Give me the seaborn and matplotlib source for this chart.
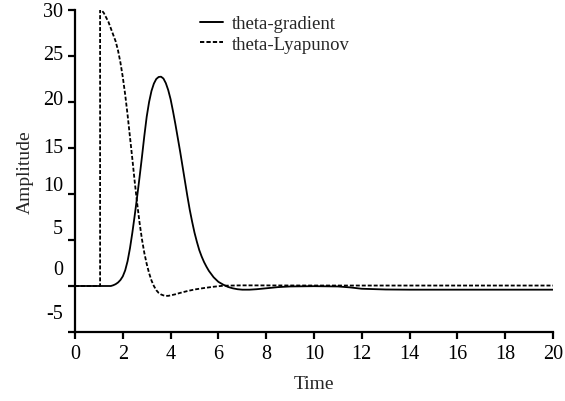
import matplotlib
matplotlib.use("Agg")
import matplotlib.pyplot as plt
import matplotlib.transforms as mtransforms
import pandas as pd
import seaborn as sns

# ---- data ----
grad_t = [0, 1.5, 1.6, 1.7, 1.8, 1.9, 2.0, 2.1, 2.2, 2.3, 2.4, 2.5, 2.6, 2.7, 2.8,
          2.9, 3.0, 3.1, 3.2, 3.3, 3.4, 3.5, 3.6, 3.7, 3.8, 3.9, 4.0, 4.1, 4.2,
          4.3, 4.4, 4.5, 4.6, 4.7, 4.8, 4.9, 5.0, 5.1, 5.2, 5.3, 5.4, 5.5, 5.6,
          5.7, 5.8, 5.9, 6.0, 6.2, 6.4, 6.6, 6.8, 7.0, 7.3, 7.6, 8.0, 8.5, 9.0,
          10.0, 11.0, 11.5, 12.0, 13.0, 14.0, 20.0]
grad_v = [0, 0, 0.08, 0.2, 0.38, 0.65, 1.05, 1.7, 2.7, 4.1, 5.8, 7.7, 9.7, 11.8, 14.0,
          16.3, 18.4, 20.0, 21.2, 22.0, 22.5, 22.72, 22.75, 22.55, 22.05, 21.3, 20.3, 19.0, 17.6,
          16.1, 14.6, 13.0, 11.4, 9.8, 8.3, 7.0, 5.8, 4.8, 3.9, 3.2, 2.6, 2.1, 1.65,
          1.3, 0.95, 0.7, 0.45, 0.15, -0.1, -0.25, -0.35, -0.4, -0.4, -0.35, -0.25, -0.12, -0.05,
          -0.02, -0.05, -0.15, -0.3, -0.38, -0.4, -0.4]

lyap_t = [0, 1.05, 1.05, 1.1, 1.2, 1.3, 1.4, 1.5, 1.6, 1.7, 1.8, 1.9, 2.0, 2.1, 2.2,
          2.3, 2.4, 2.5, 2.6, 2.7, 2.8, 2.9, 3.0, 3.1, 3.2, 3.3, 3.4, 3.5, 3.6,
          3.7, 3.8, 3.9, 4.0, 4.2, 4.4, 4.7, 5.0, 5.4, 5.8, 6.2, 7.0, 10.0, 14.0, 20.0]
lyap_v = [0, 0, 30.0, 30.0, 29.7, 29.2, 28.7, 28.0, 27.3, 26.6, 25.6, 24.3, 22.7, 20.8, 18.6,
          16.2, 13.8, 11.3, 9.0, 6.9, 5.1, 3.6, 2.4, 1.4, 0.6, 0.0, -0.45, -0.75, -0.92,
          -1.02, -1.07, -1.07, -1.02, -0.9, -0.75, -0.55, -0.38, -0.22, -0.08, 0.03, 0.07, 0.05, 0.05, 0.05]

series_names = ["theta-gradient", "theta-Lyapunov"]
x_ticks = [0, 2, 4, 6, 8, 10, 12, 14, 16, 18, 20]
y_ticks = [30, 25, 20, 15, 10, 5, 0, -5]
y_ticklabels = ["30", "25", "20", "15", "10", "5", "0", "-5"]
x_label = "Time"
y_label = "Amplitude"

# vertical displacement (pixels, upward) of each y tick label, as in the reference
y_label_shift_px = [1, 4, 5, 3, 11, 14, 19, 21]

df = pd.concat([
    pd.DataFrame({"Time": grad_t, "Amplitude": grad_v, "series": series_names[0]}),
    pd.DataFrame({"Time": lyap_t, "Amplitude": lyap_v, "series": series_names[1]}),
], ignore_index=True)

sns.set_style("ticks")
plt.rcParams["font.family"] = ["Liberation Serif", "DejaVu Serif"]

fig = plt.figure(figsize=(5.65, 4.02), dpi=100)
ax = fig.add_axes([75 / 565, 1 - 333 / 402, 478 / 565, 322 / 402])

sns.lineplot(data=df, x="Time", y="Amplitude", style="series",
             dashes={series_names[0]: "", series_names[1]: (2.2, 1.1)},
             color="black", estimator=None, sort=False, ax=ax, linewidth=1.3)

ax.set_xlim(0, 20)
ax.set_ylim(-5, 30)
ax.set_xticks(x_ticks)
ax.set_xticklabels([str(v) for v in x_ticks])
ax.set_yticks(y_ticks)
ax.set_yticklabels(y_ticklabels)
ax.tick_params(axis="both", direction="out", length=5, width=1.6, color="black",
               labelsize=14.5, labelcolor="black")
ax.tick_params(axis="x", pad=3.5)
ax.tick_params(axis="y", pad=3.5)

for lab, sh in zip(ax.get_yticklabels(), y_label_shift_px):
    off = mtransforms.ScaledTranslation(0, sh / 100, fig.dpi_scale_trans)
    lab.set_transform(lab.get_transform() + off)

for s in ["top", "right"]:
    ax.spines[s].set_visible(False)
for s in ["left", "bottom"]:
    ax.spines[s].set_linewidth(1.6)
    ax.spines[s].set_color("black")

ax.set_xlabel(x_label, fontsize=14, labelpad=9)
ax.set_ylabel(y_label, fontsize=14, labelpad=7)

leg = ax.legend(loc="upper left", bbox_to_anchor=((200 - 75) / 478, (333 - 16) / 322),
                frameon=False, fontsize=13.5, handlelength=1.2, handletextpad=0.5,
                borderpad=0, borderaxespad=0, labelspacing=0.2, title=None)
for line in leg.get_lines():
    line.set_linewidth(1.4)

fig.savefig("out.png", dpi=100)
